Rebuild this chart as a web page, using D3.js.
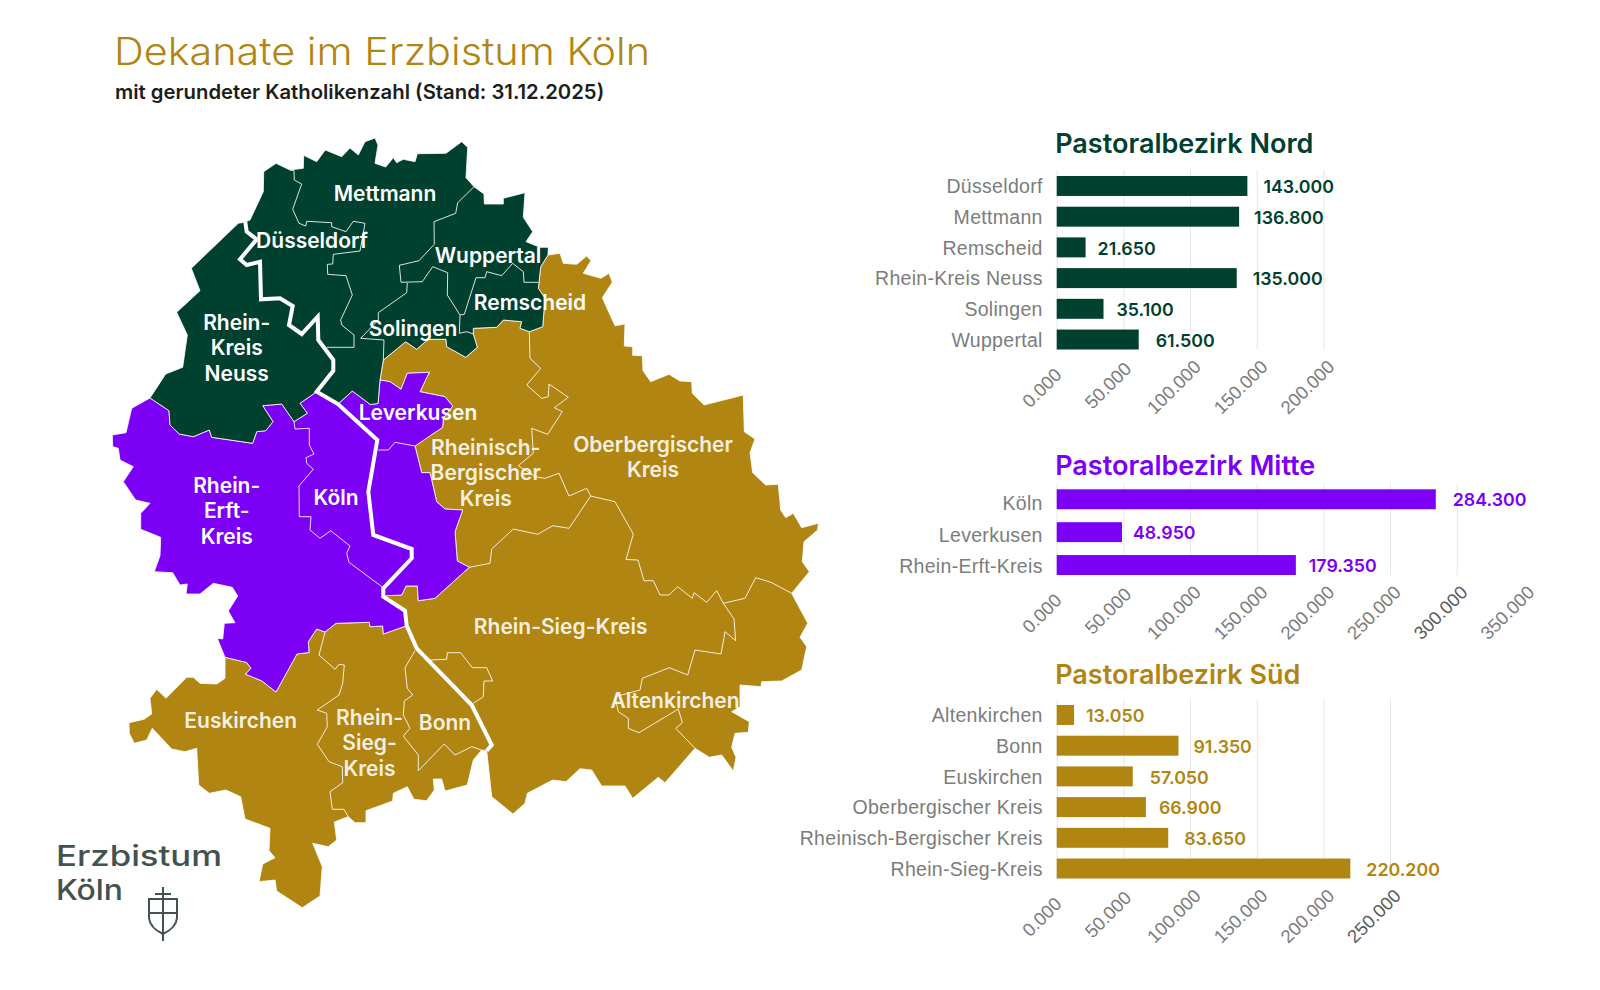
<!DOCTYPE html>
<html lang="de">
<head>
  <meta charset="UTF-8">
  <title>Dekanate im Erzbistum Köln</title>
  <script src="https://d3js.org/d3.v7.min.js"></script>
  <style>
    html, body { margin: 0; background: #fff; }
    svg { display: block; font-family: Inter, "Noto Sans", sans-serif; }
    .map-label { font-size: 21px; font-weight: 600; text-anchor: middle; fill: #fff; }
    .cat-axis text { font-size: 19.5px; font-weight: 300; letter-spacing: .3px; fill: #7c7c7c; }
    .val-axis text { font-size: 18.5px; font-weight: 300; fill: #7c7c7c; }
    .val-axis line { stroke: #e6e6e6; }
    .value { font-size: 17.8px; font-weight: 600; }
    .chart-title { font-size: 27px; font-weight: 600; }
  </style>
</head>
<body>
<svg id="chart" width="1600" height="990"></svg>
<script>
// Katholikenzahlen je Pastoralbezirk
const nordNames = ['Düsseldorf', 'Mettmann', 'Remscheid', 'Rhein-Kreis Neuss', 'Solingen', 'Wuppertal'];
const nordValues = [143000, 136800, 21650, 135000, 35100, 61500];
const nordTicks = [0, 50000, 100000, 150000, 200000];
const nordTickLabels = ['0.000', '50.000', '100.000', '150.000', '200.000'];

const mitteNames = ['Köln', 'Leverkusen', 'Rhein-Erft-Kreis'];
const mitteValues = [284300, 48950, 179350];
const mitteTicks = [0, 50000, 100000, 150000, 200000, 250000, 300000, 350000];
const mitteTickLabels = ['0.000', '50.000', '100.000', '150.000', '200.000', '250.000', '300.000', '350.000'];

const suedNames = ['Altenkirchen', 'Bonn', 'Euskirchen', 'Oberbergischer Kreis', 'Rheinisch-Bergischer Kreis', 'Rhein-Sieg-Kreis'];
const suedValues = [13050, 91350, 57050, 66900, 83650, 220200];
const suedTicks = [0, 50000, 100000, 150000, 200000, 250000];
const suedTickLabels = ['0.000', '50.000', '100.000', '150.000', '200.000', '250.000'];

// Kartenlinien. Gemeinsame Grenzen stehen nur einmal hier
const rheinNord = [[245.3,222],[246.7,231.7],[256.7,239.3],[240,259.3],[246.7,265],[260,261.7],[261,299.3],[280,298.3],[292.7,306],[289,325],[301.7,334],[317.7,316.7],[318.3,340],[333.3,360],[333.3,370.7],[316.7,391.7]];
const rheinKnick = [[316.7,391.7],[338,404]];
const rheinKoeln = [[338,404],[377.3,440],[368.3,491.7],[373.3,535],[411.7,549],[411.7,558.3],[383.3,588.3],[383.3,596.7]];
const rheinMitte = [[383.3,596.7],[405,610.7],[406.7,625.7]];
const rheinSued = [[406.7,625.7],[416.7,648.3],[471.7,705],[491.7,745],[486.7,750.7]];

const nordCoast = [[150,398],[165.7,374],[182.7,367.3],[187.3,335],[176.7,312.3],[200,290.7],[191.3,268.3],[238.3,223.3],[245.3,222],[250,220],[263.3,191.7],[263.7,171.7],[276,163.3],[290,170],[303.3,168.3],[303.7,155.3],[316.7,161.7],[325.3,150],[341.7,156.7],[350,148],[358.3,155],[365,141.7],[375,138],[378,145],[375,163.3],[385.7,167],[393.3,157.7],[396.7,162.7],[403.3,159.3],[415,161.7],[417.3,153.7],[446,153.3],[461.7,141.7],[467.7,147.3],[466,177.7],[474,186.7],[484,194],[484.3,204],[503.3,204],[503.3,198.3],[525,192.7],[523.3,217.3],[532.7,231.7],[526,241.7],[540,247.3],[548.3,247.3],[548,255]];
const nordSued = [[380,380],[383.3,360],[405.7,341.7],[416.7,349.3],[428,339.3],[446,339.3],[446.7,346.7],[465.7,357.3],[477.3,347.3],[473.3,334],[473.3,328.3],[496.7,327.3],[503.3,320],[521.7,321.7],[520,328.3],[529.3,331.7],[542.7,326.7],[545,298.3],[538.3,288.3],[540.7,266.7],[548,255]];
const nordMitteWest = [[150,398],[169,410.7],[170,425],[179.3,434],[193.3,436.7],[209.3,430],[211.7,437.3],[252.7,443.3],[256.7,431.7],[265.7,430.7],[273,421.7],[262.7,405.7],[281.7,404],[294,421.7],[307.3,413.3],[300,403.3],[316.7,391.7]];
const nordMitteOst = [[338,404],[352.3,391],[370.3,404.5],[378,403.5],[380,380]];
const mitteSuedOst = [[380,380],[390,381.7],[401,389.3],[407.3,373.3],[429.3,372.3],[420,391.7],[445,396.7],[452.7,406],[443.3,418.3],[442.7,427.3],[415,446],[421.7,472.7],[430,472.7],[436.7,501.7],[445,509],[462.7,510],[455,531.7],[457.3,561],[469.3,567.3],[435,598.3],[418.3,600.7],[417.3,586],[406,586],[401.7,595],[386.7,595.7],[383.3,596.7]];
const mitteSuedWest = [[406.7,625.7],[383.3,634],[382.7,626],[370,626.7],[369.3,622.3],[336,623.3],[325,632],[316.7,629],[308.3,641.7],[309,652.5],[297,654],[276,692],[262,681],[245.5,674.2],[251,668.3],[246.7,662.5],[225,657.3]];
const mitteCoast = [[225,657.3],[217.3,638.3],[222.7,639],[224.3,623.3],[235,622.7],[228.3,611],[237.7,596],[232.3,587.3],[213.3,583.3],[200,594],[186,594],[187.3,584],[180,585],[172.7,572.7],[154.3,571.7],[160,555.7],[160.7,537.3],[140.7,529.3],[140.7,513.3],[150,503.3],[135.7,500],[123.3,481.7],[133.3,466.7],[120,460],[118.3,448.3],[112.7,446.7],[112.3,435],[126,432.7],[131.7,408.3],[150,398]];
const suedWestCoast = [[486.7,750.7],[481.7,750],[473.3,760],[467.3,785],[445,791],[441.7,779],[433.3,779],[434.3,790],[426.7,800.7],[414,799.3],[407.3,786.7],[393.3,793.3],[392.7,801],[366,810.7],[366,822.7],[355,822.7],[348.3,816.7],[334.3,822],[336.7,840],[328.3,846.7],[312.7,843.3],[322.3,866.7],[320,896],[302.3,907.7],[276.7,891],[275,880],[259,881.7],[262.7,864],[275,857.7],[269,850.7],[270,828.3],[245,819],[240.7,796.7],[226,790],[209.3,793.3],[198.7,785],[196.7,748.3],[185,751.7],[171.7,749],[152.3,728.3],[146.7,740],[134.3,743.3],[129.3,733.3],[129,722.7],[144,719.3],[151.7,714],[150,698.3],[156.7,689.3],[166,698.3],[186.7,677.3],[193.3,677.3],[200,683.3],[216.7,684],[225,678.3],[225,657.3]];
const suedOstCoast = [[548,255],[560,253.3],[563.3,263.3],[576.7,264.3],[586.7,256],[591,260.7],[583.3,273.3],[601,278.3],[609,273.3],[612.3,282.3],[602.3,297.7],[615,325.7],[625,324],[624.3,346],[632.7,346.7],[632.7,355.3],[642.3,355.7],[643,370.7],[650.7,381.7],[669,374.3],[680,381],[691.7,381.7],[692.3,393.3],[704,405],[743.3,395],[744.3,431.7],[755,439],[750,452.7],[752.7,472.7],[765.7,485],[778.3,484.3],[780.7,510],[785.7,517.7],[793.3,513.3],[801.7,527.7],[818.3,523.3],[817.7,530],[804,541.7],[802.3,561.7],[809.3,571.7],[791.7,593.3],[807.7,623.3],[800,637.3],[806.7,646.7],[801.7,670],[781.7,681],[761.7,681.7],[761,686.7],[740,685],[740,706.7],[731.7,711.7],[749.3,721.7],[748.3,732.3],[735,733.3],[731.7,747.3],[736,757.3],[733.3,771],[721.7,755],[709.3,757.3],[695,748.3],[665,782.7],[658.3,777.3],[632.7,798.3],[625,786],[601.7,786],[591.7,770],[580,768.7],[566,781.7],[552.7,780],[527.3,793.3],[525,803.3],[513,814],[491.7,796.7],[486.7,750.7]];

// Dünne Grenzen zwischen den Dekanaten
const dekanatBorders = [
  [[290,170],[294,170.7],[294.3,180],[301.7,184],[292.7,209.3],[299,223.3],[305.7,226],[306.7,221.3],[331.7,222.7],[331.7,226.7],[346,231.7],[353.3,221.3],[365,223.3],[360,251],[333.3,254.3],[332.7,264],[327.3,264.3],[327.7,274.3],[346,275.7],[352.3,295],[340.7,320],[341.7,325],[354,335],[354,347.3],[326.7,347.3]],
  [[474,186.7],[457.7,202.7],[455.7,213.3],[434,221.7],[434.3,244.3],[419,260.7],[399.3,265.3],[401,282.3],[422.3,281.7],[432.7,266.7],[447.7,272.7],[447.3,295],[460,315],[459.3,333.3],[466.7,331.7],[473.3,334]],
  [[407.3,283],[406.7,292.7],[378.3,312.7],[378.3,320],[360.7,338.3],[384,340],[383.3,360]],
  [[460,315],[464.3,314.3],[476,277.7],[485,277.7],[486.7,271.7],[501.7,275.7],[512.7,263.3],[523.3,271.7],[524,282.3],[538.3,282.3]],
  [[529.3,331.7],[530,358.3],[540.7,368.3],[526.7,385],[541.7,398.3],[548.3,396.7],[549,384],[568.3,397.3],[554.3,407.7],[562.3,411.7],[547.7,434.3],[531.7,428.3],[533.3,453.3],[518.3,465.7],[535,476.7],[545,478.3],[559,473.3],[569,496],[586.7,488.3],[590.7,496]],
  [[590.7,496],[569,528.3],[552.7,525.7],[537.7,534.3],[513.3,529],[491.7,549],[490,563.3],[469.3,567.3]],
  [[590.7,496],[615,501.7],[633.3,534],[626,559.5],[638,560],[644,580.7],[653.3,580.7],[660,595],[669,595],[677.7,586.7],[692.3,598.3],[694,592.7],[706.7,602.3],[716.7,590.7],[723.3,603.3]],
  [[723.3,603.3],[745,598.3],[755.7,577.7],[771,582.3],[791.7,593.3]],
  [[723.3,603.3],[734,619],[735.7,640.7],[725,631.7],[721,654],[695,650],[687.7,675],[669.3,667.7],[642.3,678.3],[640,690],[615,696.7],[618.3,711.7],[628.3,718.3],[628.3,728.3],[639,732.7],[678.3,709],[682.3,722.7],[675.7,728.3],[695,748.3]],
  [[430,660],[446.7,659.3],[447.3,652.7],[460.7,652.7],[472.3,667.7],[486.7,667.7],[492.7,681],[484,681],[483.3,696.7],[473.3,703.3]],
  [[415,650.7],[405,667.7],[407.3,688.3],[412.7,695],[404.3,701],[403.3,715],[410,728.3],[403.3,736],[418.3,755],[418.3,770.7],[444.3,744],[455,755],[471.7,746.7],[481.7,750]],
  [[325,632],[319,655],[335,669.3],[339,664.3],[344.3,665],[342.7,683.3],[339,695],[317.3,710],[326.7,713.3],[327.3,726.7],[317.3,744.3],[329,761.7],[342.3,766.7],[342.7,782.7],[330,791.7],[332.3,809.3],[344,809.3],[348.3,816.7]],
  [[294,421.7],[295,429],[309.3,428.3],[309.3,445],[314,454],[306,457.7],[306.7,463.3],[313.3,469.3],[299,486],[299.3,516.7],[311,516.7],[310,530],[320,538.3],[330.7,530.7],[350,546],[346.7,553.3],[349,562.3],[382.7,587.3]],
  [[378.3,450],[388.3,450],[395,442.3],[415,446]]
];

const mapLabels = [
  ['Mettmann'], ['Düsseldorf'], ['Wuppertal'], ['Remscheid'], ['Solingen'], ['Rhein-', 'Kreis', 'Neuss'],
  ['Leverkusen'], ['Rhein-', 'Erft-', 'Kreis'], ['Köln'],
  ['Rheinisch-', 'Bergischer', 'Kreis'], ['Oberbergischer', 'Kreis'], ['Rhein-Sieg-Kreis'], ['Altenkirchen'],
  ['Euskirchen'], ['Rhein-', 'Sieg-', 'Kreis'], ['Bonn']
];
const mapLabelAnchors = [
  [385,200.5], [312,247.5], [488,262.5], [530,309.5], [413,335.5], [236.7,329.5],
  [418,419.5], [226.7,492.5], [336,504.5],
  [485.7,454.5], [653,451.5], [560.7,633.5], [675,707.5],
  [240.7,727.5], [369.5,724.5], [445,729.5]
];

const NORD = '#00402f';
const MITTE = '#7b00f5';
const SUED = '#b18512';

// Abstand der Wertebeschriftung, im Original von Hand gesetzt
const nordNudge = [0, -1, -4, 0, -3, 1];
const mitteNudge = [1, -5, -3];
const suedNudge = [-4, -1, 1, -3, 0, 0];
// Versatz der gedrehten Achsentexte nach Textlänge
const tickShift = { 5: [-7, 4], 6: [-4, -2], 7: [-1, -4] };

const svg = d3.select('#chart');

// Überschrift
svg.append('text').attr('x', 114).attr('y', 65)
  .attr('textLength', 536).attr('lengthAdjust', 'spacingAndGlyphs')
  .style('font-size', '38px').style('font-weight', 300).attr('fill', SUED)
  .text('Dekanate im Erzbistum Köln');
svg.append('text').attr('x', 115).attr('y', 98.5)
  .style('font-size', '20.3px').style('font-weight', 600).attr('fill', '#1d1d1b')
  .text('mit gerundeter Katholikenzahl (Stand: 31.12.2025)');

// Karte
const rev = a => a.slice().reverse();
const ring = (...arcs) => [arcs.flat()];
const pastoral = [
  { color: SUED, coords: ring(rheinSued, suedWestCoast, rev(mitteSuedWest)) },
  { color: SUED, coords: ring(rev(mitteSuedOst), nordSued, suedOstCoast, rev(rheinSued), rev(rheinMitte)) },
  { color: MITTE, coords: ring(nordMitteWest, rheinKnick, nordMitteOst, mitteSuedOst, rheinMitte, mitteSuedWest, mitteCoast) },
  { color: NORD, coords: ring(nordCoast, rev(nordSued), rev(nordMitteOst), rev(rheinKnick), rev(nordMitteWest)) }
];
const geoPath = d3.geoPath(d3.geoIdentity());
const mapG = svg.append('g');

mapG.selectAll('path.area').data(pastoral).join('path')
  .attr('class', 'area')
  .attr('d', d => geoPath({ type: 'Polygon', coordinates: d.coords }))
  .attr('fill', d => d.color)
  .attr('stroke', '#fff').attr('stroke-width', 0.8).attr('stroke-linejoin', 'round');

mapG.selectAll('path.border').data(dekanatBorders).join('path')
  .attr('class', 'border')
  .attr('d', d => geoPath({ type: 'LineString', coordinates: d }))
  .attr('fill', 'none').attr('stroke', '#fff').attr('stroke-opacity', 0.85).attr('stroke-width', 1);

mapG.append('path')
  .attr('d', geoPath({ type: 'LineString', coordinates: [...rheinNord, ...rheinKnick, ...rheinKoeln, ...rheinMitte, ...rheinSued] }))
  .attr('fill', 'none').attr('stroke', '#fff').attr('stroke-width', 4).attr('stroke-linejoin', 'miter');

const labels = mapG.selectAll('text').data(mapLabels).join('text')
  .attr('class', 'map-label')
  .style('fill-opacity', (d, i) => i >= 9 ? 0.9 : 1)
  .attr('transform', (d, i) => `translate(${mapLabelAnchors[i]})`);
labels.selectAll('tspan').data(d => d).join('tspan')
  .attr('x', 0).attr('y', (d, i) => i * 25.8).text(d => d);

// Balkendiagramme, gleicher Massstab in allen drei
const x = d3.scaleLinear().domain([0, 350000]).range([1056.7, 1523.4]);

function barChart({ title, titleY, names, values, nudge, ticks, tickLabels, color, top, bottom, catTop, padding, gridTo, darkTick }) {
  const y = d3.scaleBand().domain(names).range([top, bottom]).paddingInner(padding);
  // in "Mitte" laufen die Namen im Original enger als die Balken
  const yCat = y.copy().range([catTop ?? top, bottom]);
  const g = svg.append('g');

  const xAxis = d3.axisBottom(x).tickValues(ticks)
    .tickFormat((d, i) => tickLabels[i]).tickSize(-(bottom - top + 6)).tickPadding(0);
  const axisG = g.append('g').attr('class', 'val-axis').attr('transform', `translate(0,${bottom})`).call(xAxis);
  axisG.select('.domain').remove();
  axisG.selectAll('.tick line').filter(d => d > gridTo).remove();
  axisG.selectAll('.tick text')
    .attr('text-anchor', 'end').attr('y', 0).attr('dy', '.35em')
    .attr('transform', (d, i) => {
      const [dx, dy] = tickShift[tickLabels[i].length];
      return `translate(${8 + dx},${18 + dy}) rotate(-45)`;
    })
    .filter(d => d === darkTick).style('font-weight', 400).style('fill', '#5c5c5c');

  const catAxis = d3.axisLeft(yCat).tickSize(0).tickPadding(14);
  const catG = g.append('g').attr('class', 'cat-axis').attr('transform', `translate(${x(0)},1)`).call(catAxis);
  catG.select('.domain').remove();

  g.selectAll('rect').data(values).join('rect')
    .attr('x', x(0))
    .attr('y', (d, i) => y(names[i]))
    .attr('width', d => x(d) - x(0))
    .attr('height', y.bandwidth())
    .attr('fill', color);

  g.selectAll('text.value').data(values).join('text')
    .attr('class', 'value')
    .attr('x', (d, i) => x(d) + 16 + nudge[i])
    .attr('y', (d, i) => y(names[i]) + y.bandwidth() / 2 + 1)
    .attr('dy', '.35em')
    .attr('fill', color)
    .text(d => d3.format(',')(d).replace(',', '.'));

  svg.append('text').attr('class', 'chart-title')
    .attr('x', x(0) - 1.5).attr('y', titleY).attr('fill', color).text(title);
}

barChart({ title: 'Pastoralbezirk Nord', titleY: 153, names: nordNames, values: nordValues, nudge: nordNudge, ticks: nordTicks, tickLabels: nordTickLabels, color: NORD, top: 176, bottom: 349.5, padding: 0.35, gridTo: 200000 });
barChart({ title: 'Pastoralbezirk Mitte', titleY: 475, names: mitteNames, values: mitteValues, nudge: mitteNudge, ticks: mitteTicks, tickLabels: mitteTickLabels, color: MITTE, top: 489.3, bottom: 575, catTop: 493.5, padding: 0.394, gridTo: 300000, darkTick: 300000 });
barChart({ title: 'Pastoralbezirk Süd', titleY: 684, names: suedNames, values: suedValues, nudge: suedNudge, ticks: suedTicks, tickLabels: suedTickLabels, color: SUED, top: 705, bottom: 878.5, padding: 0.35, gridTo: 250000, darkTick: 250000 });

// Logo
const logo = svg.append('g').attr('fill', '#43524f');
logo.append('text').attr('x', 56).attr('y', 866).attr('textLength', 166).attr('lengthAdjust', 'spacingAndGlyphs')
  .style('font-size', '28px').style('font-weight', 500).text('Erzbistum');
logo.append('text').attr('x', 56).attr('y', 900).attr('textLength', 67).attr('lengthAdjust', 'spacingAndGlyphs')
  .style('font-size', '28px').style('font-weight', 500).text('Köln');
const emblem = d3.path();
emblem.moveTo(149, 899); emblem.lineTo(177, 899); emblem.lineTo(177, 918);
emblem.quadraticCurveTo(176, 928, 163, 934); emblem.quadraticCurveTo(150, 928, 149, 918); emblem.closePath();
emblem.moveTo(163, 887); emblem.lineTo(163, 941);
emblem.moveTo(155, 894); emblem.lineTo(171, 894);
emblem.moveTo(149, 913); emblem.lineTo(177, 913);
logo.append('path').attr('d', emblem.toString()).attr('fill', 'none').attr('stroke', '#43524f').attr('stroke-width', 2);
</script>
</body>
</html>
